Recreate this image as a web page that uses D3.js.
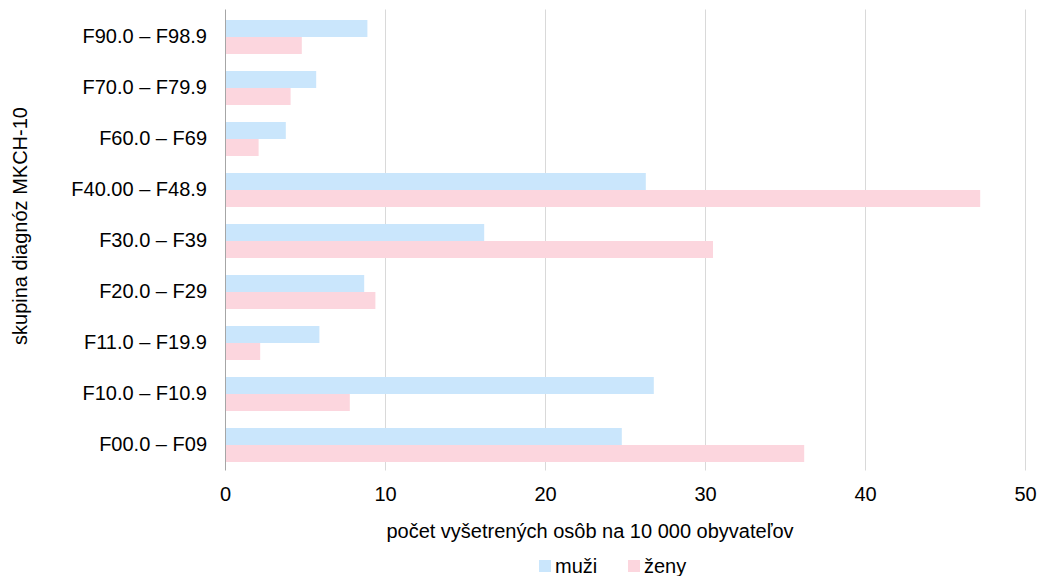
<!DOCTYPE html>
<html><head><meta charset="utf-8">
<script src="https://cdn.jsdelivr.net/npm/d3@7"></script>
<style>body{margin:0;background:#fff;} text{font-family:"Liberation Sans",Arial,sans-serif;fill:#000;}</style>
</head><body>
<svg id="c" width="1044" height="576"></svg>
<script>
const categories = ["F90.0 – F98.9","F70.0 – F79.9","F60.0 – F69","F40.00 – F48.9","F30.0 – F39","F20.0 – F29","F11.0 – F19.9","F10.0 – F10.9","F00.0 – F09"];
const muzi = [8.9, 5.7, 3.8, 26.3, 16.2, 8.7, 5.9, 26.8, 24.8];
const zeny = [4.8, 4.1, 2.1, 47.2, 30.5, 9.4, 2.2, 7.8, 36.2];
const seriesNames = ["muži","ženy"];
const colors = ["#cae6fc","#fcd6de"];
const xTicks = [0,10,20,30,40,50];

const FS = 20;
const svg = d3.select("#c");
const m = {l:225, r:1025, t:11.5, b:470.5};
const x = d3.scaleLinear().domain([0,50]).range([m.l, m.r]);
const y = d3.scaleBand().domain(categories).range([m.t, m.b]).paddingInner(1/3).paddingOuter(1/6);
const y1 = d3.scaleBand().domain(seriesNames).range([0, y.bandwidth()]);

// gridlines
svg.append("g").selectAll("line").data(xTicks.slice(1)).join("line")
  .attr("x1", d=>x(d)+0.5).attr("x2", d=>x(d)+0.5).attr("y1", m.t-2).attr("y2", m.b)
  .attr("stroke","#d9d9d9").attr("stroke-width",1);

const data = [muzi, zeny];
data.forEach((vals, si) => {
  svg.append("g").selectAll("rect").data(categories).join("rect")
    .attr("x", x(0)).attr("y", (c)=>y(c)+y1(seriesNames[si]))
    .attr("width", (c,i)=>x(vals[i])-x(0)).attr("height", y1.bandwidth())
    .attr("fill", colors[si]);
});

// axis line
svg.append("line").attr("x1", x(0)+0.5).attr("x2", x(0)+0.5).attr("y1", m.t-2).attr("y2", m.b)
  .attr("stroke","#a6a6a6").attr("stroke-width",1);

// x axis
const xa = svg.append("g").attr("transform",`translate(0,${m.b})`)
  .call(d3.axisBottom(x).tickValues(xTicks).tickSize(0).tickPadding(16));
xa.select(".domain").remove();
xa.selectAll("text").attr("font-size",FS).attr("font-family","Liberation Sans, Arial, sans-serif").attr("fill","#000");

// y axis
const ya = svg.append("g").attr("transform",`translate(${m.l},0)`)
  .call(d3.axisLeft(y).tickSize(0).tickPadding(18));
ya.select(".domain").remove();
ya.selectAll("text").attr("font-size",FS).attr("font-family","Liberation Sans, Arial, sans-serif").attr("fill","#000");

// titles
svg.append("text").attr("x", 590).attr("y", 538).attr("text-anchor","middle").attr("font-size",FS)
  .text("počet vyšetrených osôb na 10 000 obyvateľov");
svg.append("text").attr("transform","translate(27,226) rotate(-90)").attr("text-anchor","middle").attr("font-size",FS)
  .text("skupina diagnóz MKCH-10");

// legend
const lg = svg.append("g");
const lx = [539, 628];
seriesNames.forEach((n,i)=>{
  lg.append("rect").attr("x", lx[i]).attr("y", 560).attr("width",12).attr("height",12).attr("fill",colors[i]);
  lg.append("text").attr("x", lx[i]+16).attr("y", 573).attr("font-size",FS).text(n);
});
</script>
</body></html>
